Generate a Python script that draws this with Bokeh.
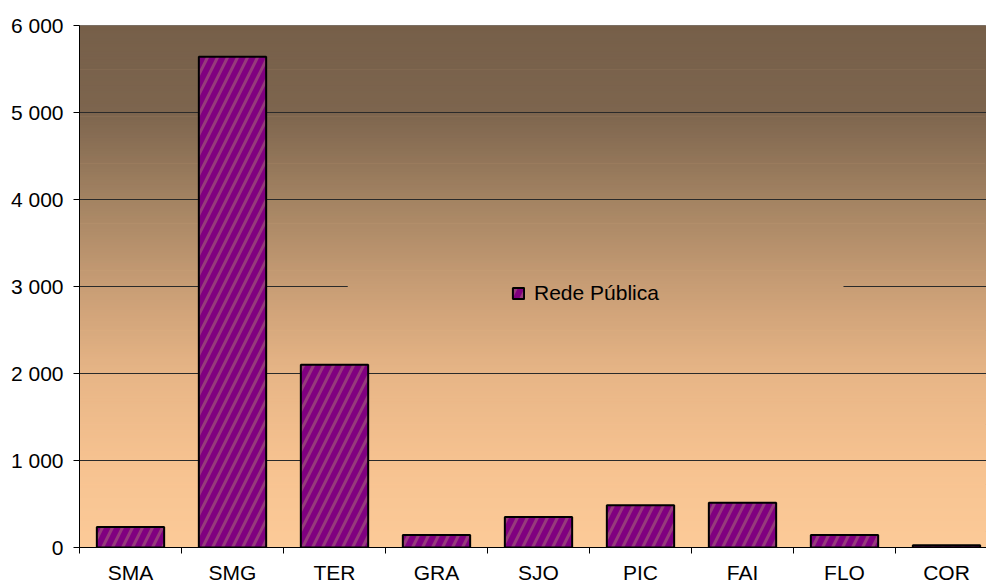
import numpy as np
from bokeh.plotting import figure
from bokeh.models import Range1d, FixedTicker, Legend, LegendItem
from bokeh.embed import file_html
from bokeh.resources import INLINE

# ---- data ----
categories = ["SMA", "SMG", "TER", "GRA", "SJO", "PIC", "FAI", "FLO", "COR"]
rede_publica = [235, 5640, 2100, 145, 350, 485, 515, 145, 25]
y_ticks = [0, 1000, 2000, 3000, 4000, 5000, 6000]
series_name = "Rede Pública"

n = len(categories)
x_centers = [i + 0.5 for i in range(n)]
x_bounds = list(range(n + 1))
x_end = 907 / 102.0
y_max = y_ticks[-1]

FONT = "Liberation Sans"

p = figure(width=986, height=586, output_backend="svg", toolbar_location=None,
           x_range=Range1d(0, x_end), y_range=Range1d(0, y_max),
           min_border_left=79, min_border_right=0, min_border_top=25,
           min_border_bottom=39)
p.border_fill_color = "white"
p.background_fill_color = "#FCCA98"
p.outline_line_color = "#808080"
p.outline_line_width = 1

# ---- vertical gradient background of the plot area ----
stop_pos = [0.0, 1/6, 2/6, 3/6, 4/6, 5/6, 1.0]
stop_rgb = [(252, 202, 152), (246, 194, 144), (231, 181, 134), (200, 157, 117),
            (163, 131, 98), (125, 101, 78), (118, 95, 73)]
edges = np.linspace(0, y_max, 201)
mids = (edges[:-1] + edges[1:]) / 2 / y_max
cols = []
for m in mids:
    r = np.interp(m, stop_pos, [c[0] for c in stop_rgb])
    g = np.interp(m, stop_pos, [c[1] for c in stop_rgb])
    b = np.interp(m, stop_pos, [c[2] for c in stop_rgb])
    cols.append("#%02x%02x%02x" % (int(round(r)), int(round(g)), int(round(b))))
p.quad(left=0, right=x_end, bottom=edges[:-1], top=edges[1:] + 8,
       fill_color=cols, line_color=None)

# ---- grid lines (3000 line interrupted by the legend) ----
full = [v for v in y_ticks[1:-1] if v != 3000]
p.segment(x0=[0] * len(full), x1=[x_end] * len(full), y0=full, y1=full,
          line_color="#2a2a2a", line_width=1)
p.segment(x0=[0, 7.49], x1=[2.63, x_end], y0=[3000, 3000], y1=[3000, 3000],
          line_color="#2a2a2a", line_width=1)

# ---- bars ----
bars = p.vbar(x=x_centers, width=0.66, top=rede_publica, bottom=0,
              fill_color="#800080", line_color="black", line_width=2,
              hatch_pattern="/", hatch_color="#963A7C", hatch_weight=3,
              hatch_scale=20)

# ---- axes ----
p.xgrid.visible = False
p.ygrid.visible = False

xa = p.xaxis[0]
xa.ticker = FixedTicker(ticks=x_centers, minor_ticks=x_bounds)
xa.major_label_overrides = {c: lab for c, lab in zip(x_centers, categories)}
xa.major_tick_out = 0
xa.major_tick_in = 0
xa.minor_tick_out = 6
xa.minor_tick_in = 0
xa.minor_tick_line_color = "black"
xa.axis_line_color = "black"
xa.major_label_standoff = 7

ya = p.yaxis[0]
ya.ticker = FixedTicker(ticks=y_ticks)
ya.major_label_overrides = {v: f"{v:,}".replace(",", " ") for v in y_ticks}
ya.major_tick_out = 6
ya.major_tick_in = 0
ya.minor_tick_out = 0
ya.minor_tick_in = 0
ya.major_tick_line_color = "black"
ya.axis_line_color = "black"
ya.major_label_standoff = 10

for ax in (xa, ya):
    ax.major_label_text_font = FONT
    ax.major_label_text_font_size = "21px"
    ax.major_label_text_color = "black"

# ---- legend ----
legend = Legend(items=[LegendItem(label=series_name, renderers=[bars])],
                location=(432, 242), orientation="horizontal",
                background_fill_alpha=0, border_line_color=None,
                padding=0, margin=0, glyph_width=14, glyph_height=14,
                label_standoff=9, label_text_font=FONT,
                label_text_font_size="21px", label_text_color="black")
p.add_layout(legend, "center")

open("out.html", "w").write(file_html(p, INLINE))
